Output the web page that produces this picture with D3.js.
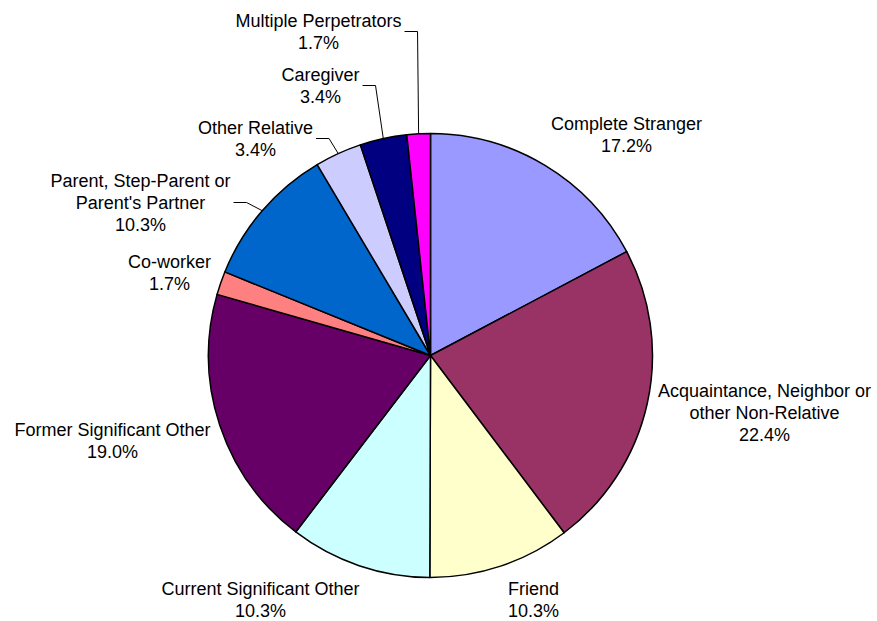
<!DOCTYPE html>
<html>
<head>
<meta charset="utf-8">
<script src="https://cdn.jsdelivr.net/npm/d3@7"></script>
<style>
  body { margin: 0; background: #fff; }
  .slice-label { font-family: "Liberation Sans", Arial, sans-serif; font-size: 18px; fill: #000; }
</style>
</head>
<body>
<div id="chart"></div>
<script>
// Chart data
const categories = [
  "Complete Stranger",
  "Acquaintance, Neighbor or|other Non-Relative",
  "Friend",
  "Current Significant Other",
  "Former Significant Other",
  "Co-worker",
  "Parent, Step-Parent or|Parent's Partner",
  "Other Relative",
  "Caregiver",
  "Multiple Perpetrators"
];
const percents = [17.2, 22.4, 10.3, 10.3, 19.0, 1.7, 10.3, 3.4, 3.4, 1.7];
const colors = ["#9999ff", "#993366", "#ffffcc", "#ccffff", "#660066",
                "#ff8080", "#0066cc", "#ccccff", "#000080", "#ff00ff"];

// Label box centres, relative to the pie centre, and whether a leader line is drawn
const labelLayout = [
  {dx: 196, dy: -221, leader: false},
  {dx: 334, dy: 57, leader: false},
  {dx: 103, dy: 244, leader: false},
  {dx: -170, dy: 244, leader: false},
  {dx: -318, dy: 85, leader: false},
  {dx: -261, dy: -83, leader: false},
  {dx: -290, dy: -153, leader: true},
  {dx: -175, dy: -217, leader: true},
  {dx: -110, dy: -270, leader: true},
  {dx: -112, dy: -324, leader: true}
];

const config = {
  width: 877,
  height: 621,
  cx: 430.5,
  cy: 355.5,
  radius: 222,
  lineHeight: 22
};

const svg = d3.select("#chart").append("svg")
    .attr("width", config.width)
    .attr("height", config.height);

const chart = svg.append("g")
    .attr("transform", `translate(${config.cx},${config.cy})`);

const pie = d3.pie().sort(null).value(d => d);
const arcs = pie(percents);

const arc = d3.arc().innerRadius(0).outerRadius(config.radius);

chart.selectAll(".slice")
    .data(arcs)
  .join("path")
    .attr("class", "slice")
    .attr("d", arc)
    .attr("fill", (d, i) => colors[i])
    .attr("stroke", "#000")
    .attr("stroke-width", 1.5)
    .attr("stroke-linejoin", "round");

// Labels
const labels = chart.selectAll(".slice-label")
    .data(arcs)
  .join("text")
    .attr("class", "slice-label")
    .attr("text-anchor", "middle");

labels.each(function(d, i) {
  const lines = categories[i].split("|").concat([d3.format(".1f")(percents[i]) + "%"]);
  const pos = labelLayout[i];
  const top = pos.dy - (lines.length - 1) * config.lineHeight / 2;
  d3.select(this).selectAll("tspan")
      .data(lines)
    .join("tspan")
      .attr("x", pos.dx)
      .attr("y", (l, j) => top + j * config.lineHeight)
      .attr("dy", "0.35em")
      .text(l => l);
});

// Leader lines for small slices
labels.each(function(d, i) {
  const pos = labelLayout[i];
  if (!pos.leader) return;
  const box = this.getBBox();
  const mid = (d.startAngle + d.endAngle) / 2;
  const sx = box.x + box.width + 3;
  const sy = pos.dy;
  const ex = config.radius * Math.sin(mid);
  const ey = -config.radius * Math.cos(mid);
  chart.append("path")
      .attr("class", "leader")
      .attr("d", d3.line()([[sx, sy], [sx + 13, sy], [ex, ey]]))
      .attr("fill", "none")
      .attr("stroke", "#000")
      .attr("stroke-width", 1);
});
</script>
</body>
</html>
